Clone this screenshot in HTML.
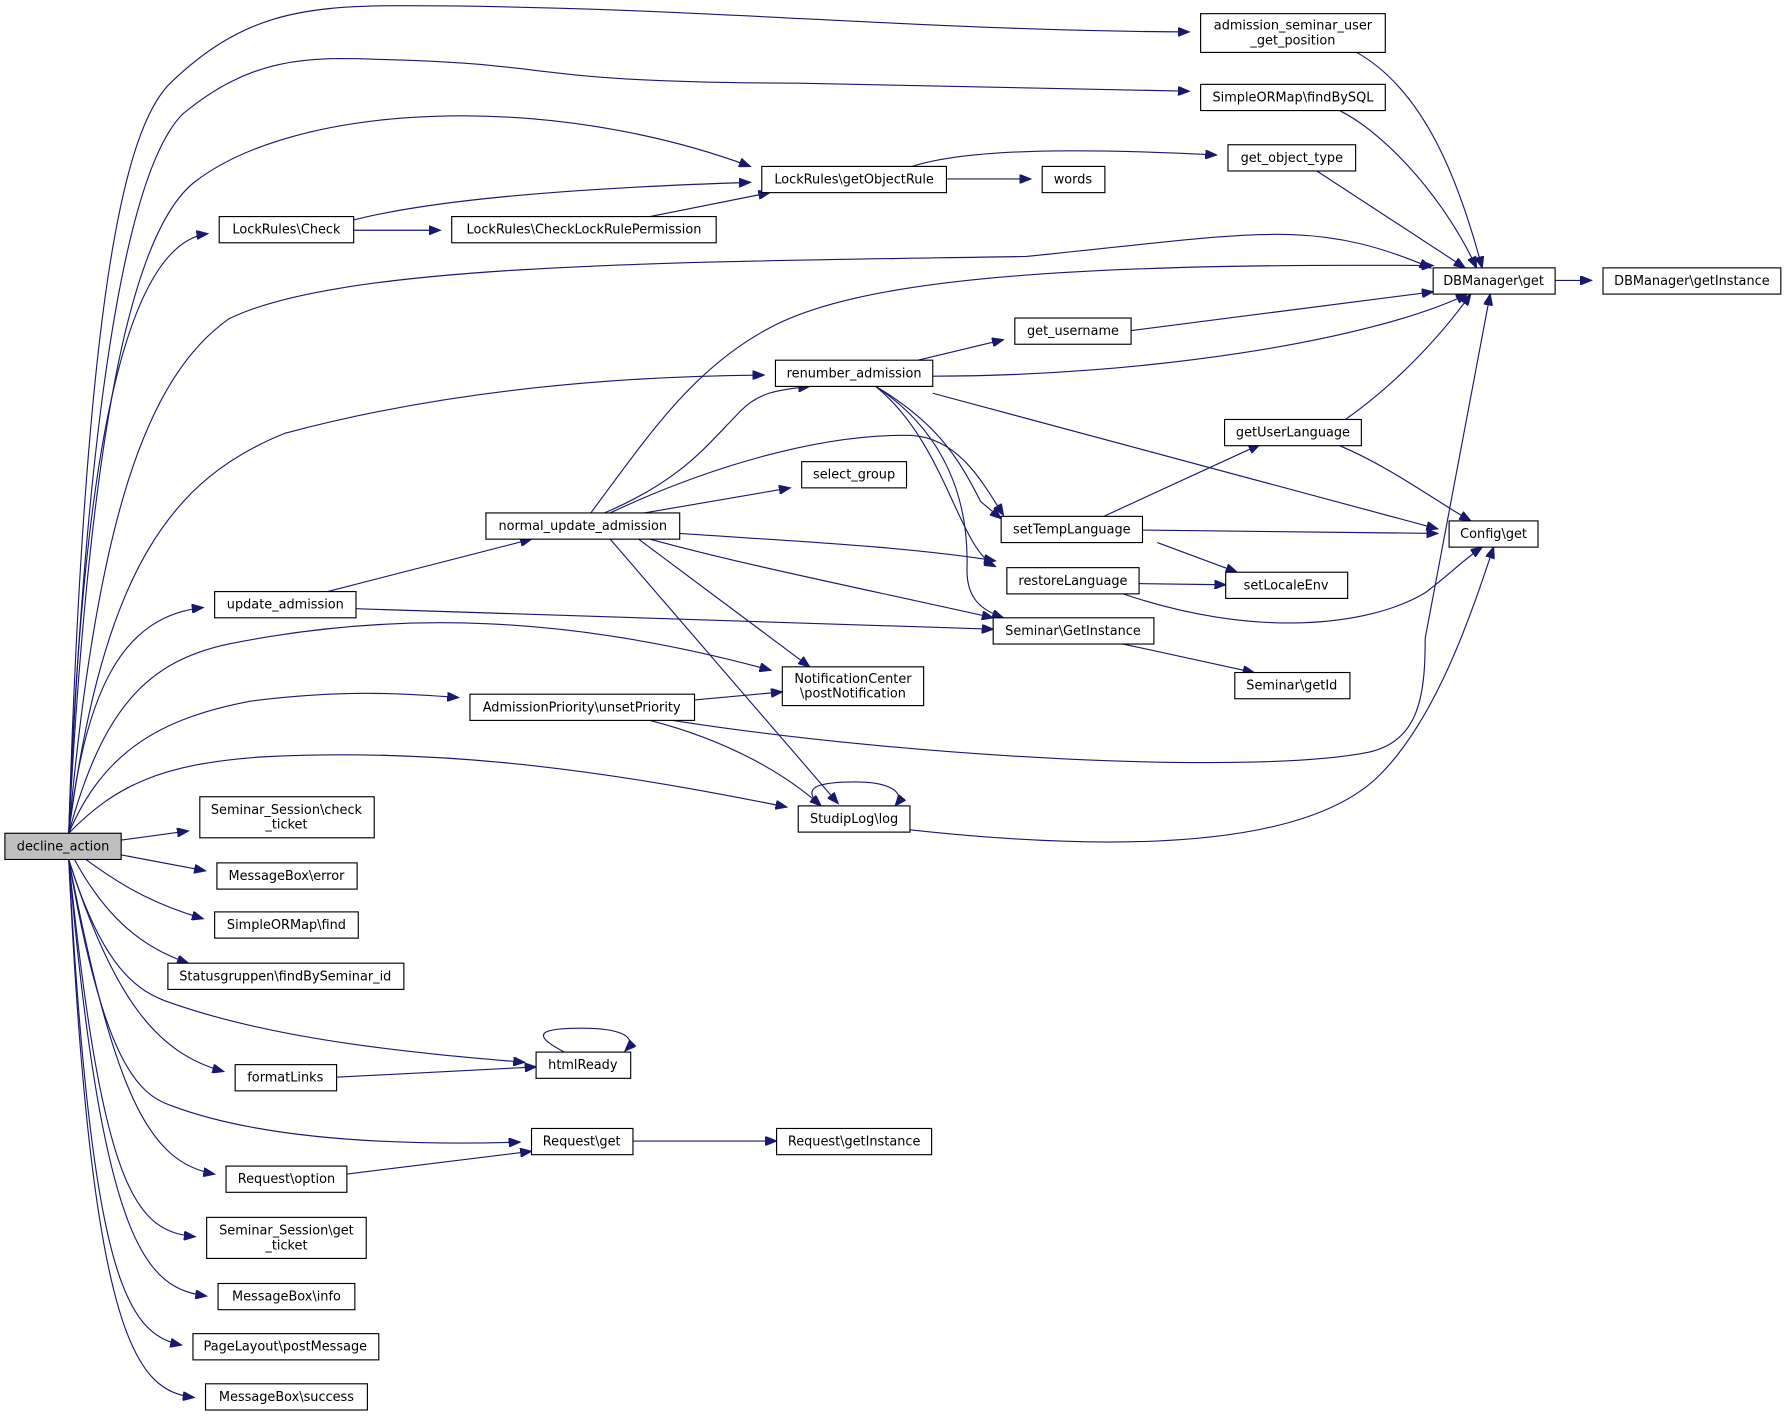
<!DOCTYPE html>
<html><head><meta charset="utf-8"><style>
html,body{margin:0;padding:0;background:#fff}
svg{display:block}
text{font-family:"DejaVu Sans","Liberation Sans",sans-serif;font-size:11.3px;fill:#000;text-anchor:middle}
.n{fill:#fff;stroke:#000;stroke-width:1}
.e{fill:none;stroke:#191970;stroke-width:1}
</style></head><body>
<svg width="1788" height="1418" viewBox="0 0 1568 1244" xmlns="http://www.w3.org/2000/svg">
<defs><marker id="a" markerUnits="userSpaceOnUse" markerWidth="11" markerHeight="8" refX="10" refY="4" orient="auto"><path d="M0,0 L10,4 L0,8 z" fill="#191970" stroke="#191970"/></marker></defs>
<g class="e" marker-end="url(#a)">
<path d="M60,731 C75,250 110,110 150,72 C210,15 260,5 350,5 C600,5 800,27 1043,28"/>
<path d="M60,731 C78,300 120,140 160,100 C220,50 270,50 330,52 C500,56 450,72 700,73 L1043,80"/>
<path d="M60,731 C80,350 120,200 170,160 C260,90 480,80 658,146"/>
<path d="M60,731 C70,450 100,215 182,205"/>
<path d="M60,731 C85,450 130,330 200,280 C300,230 600,230 900,225 C1100,205 1150,190 1255,235"/>
<path d="M60,731 C90,500 150,420 250,380 C400,340 550,330 670,329"/>
<path d="M60,731 C75,600 110,540 178,533"/>
<path d="M60,731 C90,620 130,580 200,565 C350,535 500,540 676,588"/>
<path d="M60,731 C90,660 140,630 220,615 C300,605 350,608 402,612"/>
<path d="M60,731 C100,690 140,670 230,664 C400,655 550,680 690,708"/>
<path d="M106,737 L165,729"/>
<path d="M106,750 L180,764"/>
<path d="M75,754 C110,780 140,795 178,806"/>
<path d="M65,754 C90,800 120,830 165,845"/>
<path d="M60,754 C90,850 120,870 150,880 C250,915 380,925 460,932"/>
<path d="M60,754 C100,880 140,925 196,940"/>
<path d="M60,754 C90,930 120,960 150,970 C230,1000 350,1005 456,1002"/>
<path d="M60,754 C100,960 130,1020 188,1030"/>
<path d="M60,754 C90,1050 120,1080 171,1085"/>
<path d="M60,754 C90,1100 130,1130 181,1137"/>
<path d="M60,754 C80,1120 110,1170 159,1180"/>
<path d="M60,754 C80,1180 120,1220 170,1226"/>
<path d="M310,193 C380,175 500,165 658,160"/>
<path d="M310,202 L386,202"/>
<path d="M570,190 L675,169"/>
<path d="M800,146 C850,130 950,130 1067,136"/>
<path d="M830,157 L904,157"/>
<path d="M1190,46 C1250,80 1280,160 1300,235"/>
<path d="M1175,97 C1220,120 1270,180 1295,235"/>
<path d="M1155,150 L1285,235"/>
<path d="M1364,246 L1396,246"/>
<path d="M992,290 L1257,256"/>
<path d="M805,316 L880,298"/>
<path d="M818,330 C1000,330 1200,300 1287,258"/>
<path d="M818,345 L1261,464"/>
<path d="M768,339 C820,370 840,400 860,440 L878,455"/>
<path d="M768,339 C830,390 840,480 873,497"/>
<path d="M768,339 C830,380 850,440 848,500 C848,525 860,535 880,542"/>
<path d="M1180,368 C1220,340 1260,300 1290,258"/>
<path d="M1175,391 C1220,410 1260,440 1290,457"/>
<path d="M518,450 C570,380 610,320 680,285 C750,250 900,230 1257,233"/>
<path d="M530,450 C600,420 620,390 650,360 C665,345 680,342 710,339"/>
<path d="M535,450 C620,410 720,380 800,382 C840,385 860,420 880,452"/>
<path d="M565,450 L693,428"/>
<path d="M596,468 C700,475 800,480 873,492"/>
<path d="M570,473 C650,495 750,515 871,542"/>
<path d="M560,473 L710,585"/>
<path d="M535,473 L735,705"/>
<path d="M968,453 L1105,390"/>
<path d="M1002,465 L1261,468"/>
<path d="M1015,476 L1085,502"/>
<path d="M999,512 L1075,513"/>
<path d="M985,521 C1100,560 1200,550 1250,520 C1270,505 1285,490 1300,480"/>
<path d="M287,519 L466,473"/>
<path d="M312,534 L871,552"/>
<path d="M985,565 L1100,590"/>
<path d="M609,614 L686,607"/>
<path d="M570,632 C640,650 690,680 720,707"/>
<path d="M590,632 C800,665 1100,680 1200,660 C1245,650 1250,610 1250,560 L1307,258"/>
<path d="M798,728 C1000,750 1150,740 1210,680 C1260,630 1290,540 1310,480"/>
<path d="M720,707 C700,690 720,686 750,686 C780,686 795,695 785,707"/>
<path d="M495,923 C460,905 480,902 510,902 C545,902 560,910 548,922"/>
<path d="M295,945 L470,936"/>
<path d="M555,1001 L681,1001"/>
<path d="M304,1030 L466,1010"/>
</g>
<rect x="4" y="731" width="102" height="23" fill="#bfbfbf" stroke="#000"/><text x="55" y="746">decline_action</text>
<g>
<rect class="n" x="1053" y="12" width="162" height="34"/><text x="1134" y="26">admission_seminar_user</text><text x="1134" y="39">_get_position</text>
<rect class="n" x="1053" y="74" width="162" height="23"/><text x="1134" y="89">SimpleORMap\findBySQL</text>
<rect class="n" x="1077" y="127" width="112" height="23"/><text x="1133" y="142">get_object_type</text>
<rect class="n" x="668" y="146" width="162" height="23"/><text x="749" y="161">LockRules\getObjectRule</text>
<rect class="n" x="914" y="146" width="55" height="23"/><text x="941" y="161">words</text>
<rect class="n" x="192" y="190" width="118" height="23"/><text x="251" y="205">LockRules\Check</text>
<rect class="n" x="396" y="190" width="232" height="23"/><text x="512" y="205">LockRules\CheckLockRulePermission</text>
<rect class="n" x="1257" y="235" width="107" height="23"/><text x="1310" y="250">DBManager\get</text>
<rect class="n" x="1406" y="235" width="156" height="23"/><text x="1484" y="250">DBManager\getInstance</text>
<rect class="n" x="890" y="279" width="102" height="23"/><text x="941" y="294">get_username</text>
<rect class="n" x="680" y="316" width="138" height="23"/><text x="749" y="331">renumber_admission</text>
<rect class="n" x="1074" y="368" width="120" height="23"/><text x="1134" y="383">getUserLanguage</text>
<rect class="n" x="703" y="405" width="92" height="23"/><text x="749" y="420">select_group</text>
<rect class="n" x="426" y="450" width="170" height="23"/><text x="511" y="465">normal_update_admission</text>
<rect class="n" x="878" y="453" width="124" height="23"/><text x="940" y="468">setTempLanguage</text>
<rect class="n" x="1271" y="457" width="78" height="23"/><text x="1310" y="472">Config\get</text>
<rect class="n" x="883" y="498" width="116" height="23"/><text x="941" y="513">restoreLanguage</text>
<rect class="n" x="1075" y="502" width="107" height="23"/><text x="1128" y="517">setLocaleEnv</text>
<rect class="n" x="188" y="519" width="124" height="23"/><text x="250" y="534">update_admission</text>
<rect class="n" x="871" y="542" width="141" height="23"/><text x="941" y="557">Seminar\GetInstance</text>
<rect class="n" x="686" y="585" width="124" height="34"/><text x="748" y="599">NotificationCenter</text><text x="748" y="612">\postNotification</text>
<rect class="n" x="1083" y="590" width="101" height="23"/><text x="1133" y="605">Seminar\getId</text>
<rect class="n" x="412" y="609" width="197" height="23"/><text x="510" y="624">AdmissionPriority\unsetPriority</text>
<rect class="n" x="700" y="707" width="98" height="23"/><text x="749" y="722">StudipLog\log</text>
<rect class="n" x="175" y="699" width="153" height="36"/><text x="251" y="714">Seminar_Session\check</text><text x="251" y="727">_ticket</text>
<rect class="n" x="190" y="757" width="123" height="23"/><text x="251" y="772">MessageBox\error</text>
<rect class="n" x="188" y="800" width="126" height="23"/><text x="251" y="815">SimpleORMap\find</text>
<rect class="n" x="147" y="845" width="207" height="23"/><text x="250" y="860">Statusgruppen\findBySeminar_id</text>
<rect class="n" x="470" y="923" width="83" height="23"/><text x="511" y="938">htmlReady</text>
<rect class="n" x="206" y="934" width="89" height="23"/><text x="250" y="949">formatLinks</text>
<rect class="n" x="466" y="990" width="89" height="23"/><text x="510" y="1005">Request\get</text>
<rect class="n" x="681" y="990" width="136" height="23"/><text x="749" y="1005">Request\getInstance</text>
<rect class="n" x="198" y="1023" width="106" height="23"/><text x="251" y="1038">Request\option</text>
<rect class="n" x="181" y="1068" width="140" height="36"/><text x="251" y="1083">Seminar_Session\get</text><text x="251" y="1096">_ticket</text>
<rect class="n" x="191" y="1126" width="120" height="23"/><text x="251" y="1141">MessageBox\info</text>
<rect class="n" x="169" y="1170" width="163" height="23"/><text x="250" y="1185">PageLayout\postMessage</text>
<rect class="n" x="180" y="1214" width="142" height="23"/><text x="251" y="1229">MessageBox\success</text>
</g>
</svg>
</body></html>
